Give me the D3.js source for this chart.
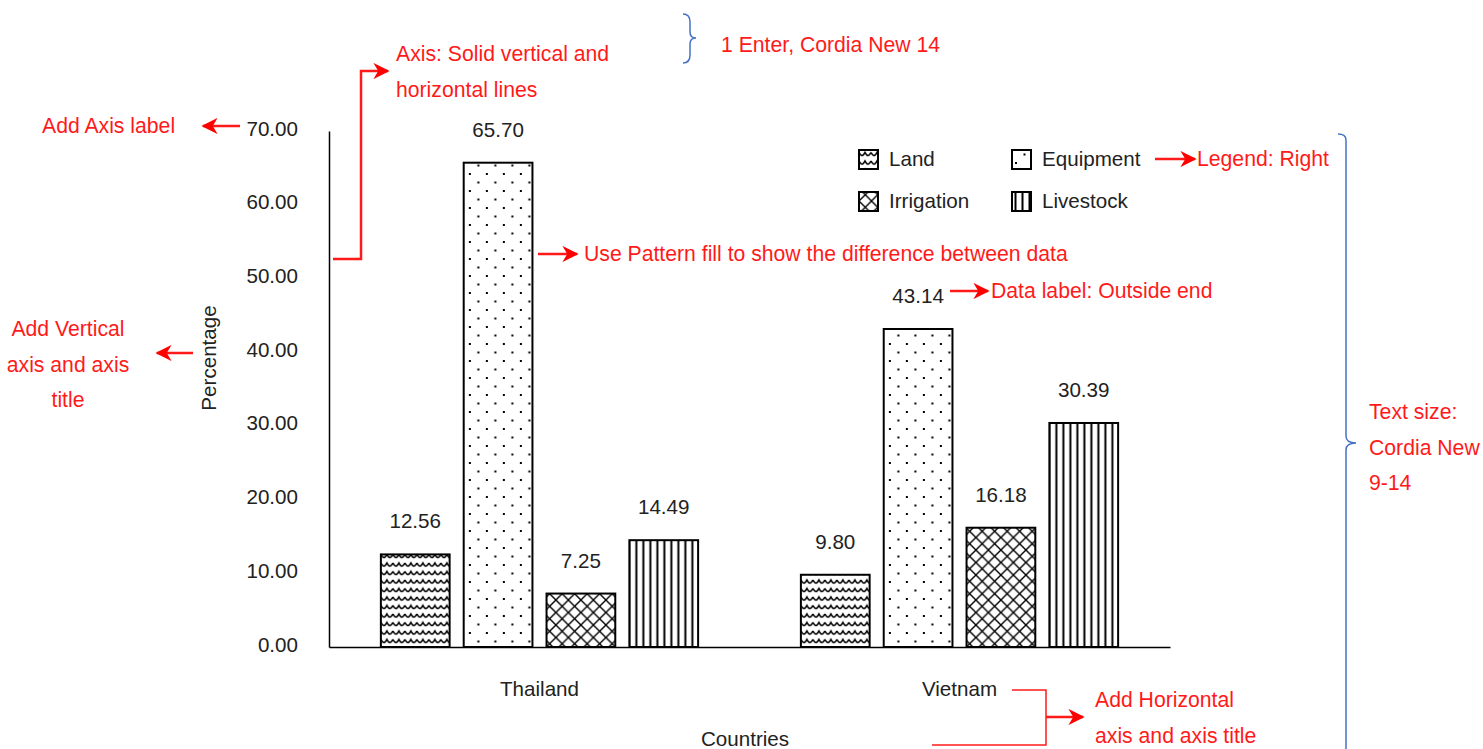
<!DOCTYPE html>
<html>
<head>
<meta charset="utf-8">
<script src="https://cdn.jsdelivr.net/npm/d3@7"></script>
<style>
  body { margin: 0; background: #fff; }
  svg text { font-family: "Liberation Sans", Arial, sans-serif; }
</style>
</head>
<body>
<svg id="chart"></svg>
<script>
// data
const countries = ["Thailand", "Vietnam"];
const seriesNames = ["Land", "Equipment", "Irrigation", "Livestock"];
const thailandValues = [12.56, 65.70, 7.25, 14.49];
const vietnamValues = [9.80, 43.14, 16.18, 30.39];
const yTicks = [0, 10, 20, 30, 40, 50, 60, 70];

const W = 1483, H = 749;
const svg = d3.select("#chart").attr("width", W).attr("height", H);

const rows = countries.map((c, i) => ({
  country: c,
  values: (i === 0 ? thailandValues : vietnamValues).map((v, j) => ({ key: seriesNames[j], value: v }))
}));

const plot = { left: 329, right: 1170, top: 131, bottom: 647 };
const blackSize = 20.6, redSize = 21.2;

// =========================
// PATTERNS
// =========================
const defs = svg.append("defs");
const patLand = defs.append("pattern").attr("id", "p-Land")
  .attr("patternUnits", "userSpaceOnUse").attr("width", 12).attr("height", 8.5);
patLand.append("path").attr("d", "M0,2 Q3,8 6,2 Q9,8 12,2")
  .attr("fill", "none").attr("stroke", "#000").attr("stroke-width", 1.6);

const patEq = defs.append("pattern").attr("id", "p-Equipment")
  .attr("patternUnits", "userSpaceOnUse").attr("width", 17).attr("height", 17);
patEq.append("rect").attr("x", 3).attr("y", 3).attr("width", 2).attr("height", 2).attr("fill", "#000");
patEq.append("rect").attr("x", 11.5).attr("y", 11.5).attr("width", 2).attr("height", 2).attr("fill", "#000");

const patIr = defs.append("pattern").attr("id", "p-Irrigation")
  .attr("patternUnits", "userSpaceOnUse").attr("width", 12.5).attr("height", 12.5);
patIr.append("path").attr("d", "M0,0 L12.5,12.5 M12.5,0 L0,12.5")
  .attr("stroke", "#000").attr("stroke-width", 1.4);

const patLv = defs.append("pattern").attr("id", "p-Livestock")
  .attr("patternUnits", "userSpaceOnUse").attr("width", 7).attr("height", 10);
patLv.append("rect").attr("x", 2.5).attr("y", 0).attr("width", 2).attr("height", 10).attr("fill", "#000");

const arrowDef = defs.append("marker").attr("id", "arrow")
  .attr("viewBox", "0 0 10 10").attr("refX", 9).attr("refY", 5)
  .attr("markerWidth", 6.5).attr("markerHeight", 6.5).attr("orient", "auto-start-reverse")
  .attr("markerUnits", "strokeWidth");
arrowDef.append("path").attr("d", "M0,0 L10,5 L0,10 L3,5 Z").attr("fill", "#f00");

// =========================
// SCALES
// =========================
const x0 = d3.scaleBand().domain(countries).range([plot.left, plot.right])
  .paddingInner(0.2447).paddingOuter(0.1235);
const x1 = d3.scaleBand().domain(seriesNames).range([0, x0.bandwidth()])
  .paddingInner(0.17).paddingOuter(0);
const y = d3.scaleLinear().domain([0, 70]).range([plot.bottom, plot.top]);

// bars
const groups = svg.append("g").selectAll("g").data(rows).join("g")
  .attr("transform", d => `translate(${x0(d.country)},0)`);

groups.selectAll("rect").data(d => d.values).join("rect")
  .attr("x", d => x1(d.key))
  .attr("y", d => y(d.value))
  .attr("width", x1.bandwidth())
  .attr("height", d => y(0) - y(d.value))
  .attr("fill", d => `url(#p-${d.key})`)
  .attr("stroke", "#000").attr("stroke-width", 2);

groups.selectAll("text").data(d => d.values).join("text")
  .attr("x", d => x1(d.key) + x1.bandwidth() / 2)
  .attr("y", d => y(d.value) - 26)
  .attr("text-anchor", "middle")
  .attr("font-size", blackSize).attr("fill", "#222")
  .text(d => d.value.toFixed(2));

// axes
const yAxis = svg.append("g").attr("transform", `translate(${plot.left},0)`)
  .call(d3.axisLeft(y).tickValues(yTicks).tickSize(0).tickSizeOuter(0).tickPadding(31)
    .tickFormat(d3.format(".2f")));
yAxis.selectAll("text").attr("font-size", blackSize).attr("fill", "#222").attr("font-family", "Liberation Sans, Arial, sans-serif")
  .attr("dy", "0.2em");
yAxis.select(".domain").attr("stroke", "#000").attr("stroke-width", 1.5);

const xAxis = svg.append("g").attr("transform", `translate(0,${plot.bottom})`)
  .call(d3.axisBottom(x0).tickSize(0).tickSizeOuter(0).tickPadding(34));
xAxis.selectAll("text").attr("font-size", blackSize).attr("fill", "#222").attr("font-family", "Liberation Sans, Arial, sans-serif");
xAxis.select(".domain").attr("stroke", "#000").attr("stroke-width", 1.5);

svg.append("text").attr("transform", "translate(216,358) rotate(-90)")
  .attr("text-anchor", "middle").attr("font-size", blackSize).attr("fill", "#222").text("Percentage");
svg.append("text").attr("x", 745).attr("y", 746)
  .attr("text-anchor", "middle").attr("font-size", blackSize).attr("fill", "#222").text("Countries");

// legend
const legendPos = [[859, 159], [1012, 159], [859, 201], [1012, 201]];
const legend = svg.append("g").selectAll("g").data(seriesNames).join("g")
  .attr("transform", (d, i) => `translate(${legendPos[i][0]},${legendPos[i][1]})`);
legend.append("rect").attr("x", 0).attr("y", -9).attr("width", 19).attr("height", 19)
  .attr("fill", d => `url(#p-${d})`).attr("stroke", "#000").attr("stroke-width", 2);
legend.append("text").attr("x", 30).attr("y", 7).attr("font-size", blackSize).attr("fill", "#222").text(d => d);

// =========================
// ANNOTATIONS
// =========================
const red = "#ff1a1a", blue = "#4472c4";
const ann = svg.append("g");
function note(x, yy, lines, anchor) {
  lines.forEach((t, i) => ann.append("text").attr("x", x).attr("y", yy + i * 35.5)
    .attr("text-anchor", anchor || "start").attr("font-size", redSize).attr("fill", red).text(t));
}
function arrow(pts) {
  ann.append("path").attr("d", d3.line()(pts)).attr("fill", "none")
    .attr("stroke", red).attr("stroke-width", 2.5).attr("marker-end", "url(#arrow)");
}

note(396, 61, ["Axis: Solid vertical and", "horizontal lines"]);
arrow([[333, 259], [361, 259], [361, 71], [388, 71]]);

note(42, 133, ["Add Axis label"]);
arrow([[240, 126], [203, 126]]);

note(68, 336, ["Add Vertical", "axis and axis", "title"], "middle");
arrow([[193, 353], [157, 353]]);

note(584, 261, ["Use Pattern fill to show the difference between data"]);
arrow([[538, 254], [577, 254]]);

note(991, 298, ["Data label: Outside end"]);
arrow([[950, 291], [988, 291]]);

note(1197, 166, ["Legend: Right"]);
arrow([[1155, 159], [1195, 159]]);

note(721, 52, ["1 Enter, Cordia New 14"]);
note(1369, 419, ["Text size:", "Cordia New", "9-14"]);

note(1095, 707, ["Add Horizontal", "axis and axis title"]);
ann.append("path").attr("d", "M1012,690 H1046 V745 H932").attr("fill", "none")
  .attr("stroke", red).attr("stroke-width", 1.5);
arrow([[1046, 717], [1083, 717]]);

// braces
ann.append("path").attr("d", "M683,14 Q690,14 690,22 V32 Q690,38 696,38 Q690,38 690,44 V55 Q690,63 683,63")
  .attr("fill", "none").attr("stroke", blue).attr("stroke-width", 1.5);
ann.append("path").attr("d", "M1338,134 Q1346,134 1346,140 V436 Q1346,443 1356,443 Q1346,443 1346,450 V749")
  .attr("fill", "none").attr("stroke", blue).attr("stroke-width", 1.5);
</script>
</body>
</html>
